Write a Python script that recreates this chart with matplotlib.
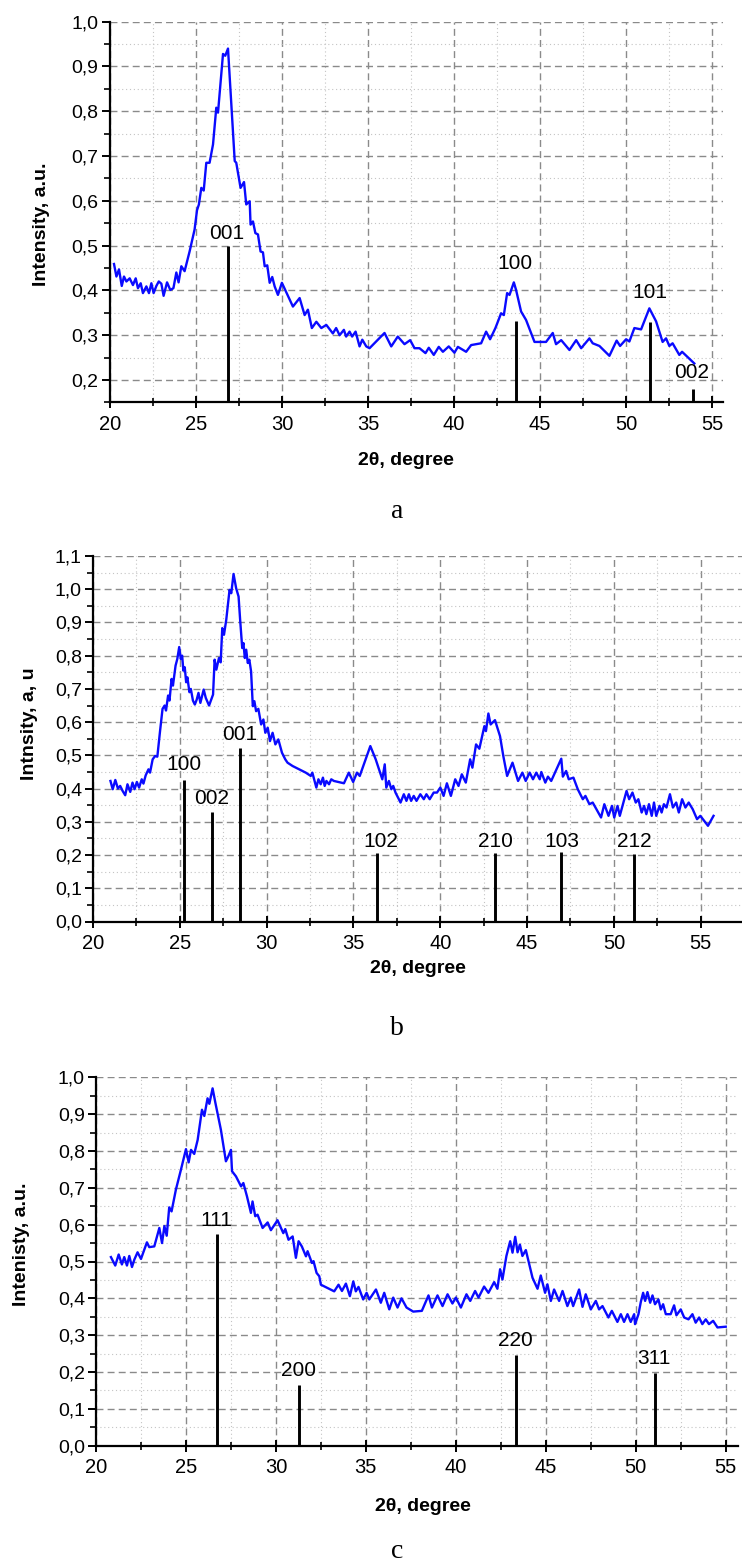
import matplotlib
matplotlib.use("Agg")
import matplotlib.pyplot as plt
from matplotlib.ticker import MultipleLocator, FuncFormatter, FixedLocator
import numpy as np

plt.rcParams['font.family'] = ['Liberation Sans', 'DejaVu Sans']

# ---------------- Panel a ----------------
a_x = [20.25, 20.39, 20.54, 20.70, 20.83, 20.97, 21.16, 21.35, 21.51, 21.64, 21.80, 21.93,
       22.13, 22.28, 22.42, 22.55, 22.71, 22.85, 23.00, 23.13, 23.33, 23.52, 23.70, 23.87,
       24.00, 24.16, 24.35, 24.64, 24.93, 25.07, 25.18, 25.32, 25.46, 25.61, 25.80, 26.00,
       26.19, 26.29, 26.58, 26.71, 26.87, 27.26, 27.35, 27.60, 27.80, 27.93, 28.13, 28.18,
       28.32, 28.46, 28.61, 28.76, 28.90, 29.00, 29.15, 29.29, 29.44, 29.58, 29.77, 30.00,
       30.64, 31.03, 31.32, 31.51, 31.74, 32.00, 32.29, 32.58, 32.96, 33.15, 33.35, 33.60,
       33.73, 33.93, 34.08, 34.28, 34.51, 34.67, 34.90, 35.09, 35.96, 36.35, 36.73, 37.12,
       37.45, 37.70, 37.99, 38.34, 38.53, 38.82, 39.11, 39.35, 39.69, 40.02, 40.22, 40.70,
       40.99, 41.57, 41.86, 42.09, 42.40, 42.73, 42.89, 43.08, 43.22, 43.47, 43.60, 43.89,
       44.18, 44.67, 44.96, 45.34, 45.73, 45.92, 46.22, 46.70, 47.09, 47.38, 47.86, 48.05,
       48.44, 49.02, 49.44, 49.64, 49.99, 50.18, 50.47, 50.86, 51.34, 51.73, 52.11, 52.31,
       52.50, 52.69, 53.08, 53.24, 53.95]
a_y = [0.459, 0.431, 0.447, 0.410, 0.431, 0.420, 0.427, 0.412, 0.427, 0.405, 0.416, 0.394,
       0.409, 0.394, 0.416, 0.394, 0.410, 0.420, 0.415, 0.388, 0.418, 0.401, 0.405, 0.440,
       0.418, 0.454, 0.443, 0.487, 0.536, 0.579, 0.592, 0.629, 0.623, 0.685, 0.685, 0.726,
       0.808, 0.797, 0.928, 0.924, 0.940, 0.689, 0.685, 0.629, 0.642, 0.592, 0.599, 0.547,
       0.554, 0.528, 0.525, 0.487, 0.485, 0.454, 0.456, 0.417, 0.430, 0.409, 0.390, 0.417,
       0.364, 0.383, 0.345, 0.357, 0.316, 0.330, 0.316, 0.323, 0.304, 0.316, 0.300, 0.312,
       0.297, 0.308, 0.297, 0.308, 0.275, 0.290, 0.275, 0.271, 0.305, 0.275, 0.297, 0.280,
       0.289, 0.271, 0.271, 0.260, 0.272, 0.256, 0.274, 0.263, 0.275, 0.261, 0.274, 0.263,
       0.278, 0.282, 0.308, 0.291, 0.316, 0.349, 0.345, 0.394, 0.390, 0.418, 0.401, 0.353,
       0.334, 0.285, 0.285, 0.285, 0.305, 0.280, 0.289, 0.267, 0.289, 0.271, 0.293, 0.282,
       0.276, 0.254, 0.288, 0.276, 0.291, 0.286, 0.316, 0.313, 0.360, 0.331, 0.285, 0.293,
       0.276, 0.282, 0.256, 0.263, 0.237]
a_peaks = ["001", "100", "101", "002"]
a_peak_x = [26.89, 43.58, 51.38, 53.88]
a_peak_top = [0.50, 0.332, 0.33, 0.179]
a_label_x = [26.81, 43.55, 51.35, 53.80]
a_label_y = [0.506, 0.438, 0.374, 0.196]

# ---------------- Panel b ----------------
b_x = [21.00, 21.13, 21.28, 21.43, 21.56, 21.70, 21.85, 21.98, 22.14, 22.27, 22.39, 22.52,
       22.65, 22.80, 22.90, 23.03, 23.19, 23.28, 23.43, 23.57, 23.70, 23.85, 24.00, 24.12,
       24.20, 24.32, 24.40, 24.52, 24.60, 24.75, 24.85, 24.96, 25.05, 25.13, 25.20, 25.28,
       25.36, 25.43, 25.55, 25.63, 25.75, 25.86, 25.97, 26.07, 26.18, 26.37, 26.49, 26.68,
       26.91, 27.00, 27.10, 27.25, 27.35, 27.44, 27.54, 27.67, 27.86, 27.96, 28.09, 28.24,
       28.38, 28.47, 28.59, 28.66, 28.74, 28.82, 28.91, 29.00, 29.10, 29.20, 29.29, 29.39,
       29.52, 29.68, 29.81, 29.92, 30.06, 30.19, 30.34, 30.50, 30.67, 30.88, 31.07, 31.20,
       31.49, 31.87, 32.25, 32.54, 32.63, 32.86, 32.98, 33.11, 33.24, 33.34, 33.44, 33.59,
       33.72, 33.87, 34.45, 34.73, 34.98, 35.20, 35.36, 35.97, 36.28, 36.47, 36.66, 36.80,
       36.89, 37.04, 37.18, 37.29, 37.42, 37.71, 37.90, 38.05, 38.19, 38.32, 38.47, 38.63,
       38.85, 39.05, 39.20, 39.39, 39.62, 39.81, 40.00, 40.19, 40.38, 40.61, 40.86, 41.05,
       41.24, 41.47, 41.72, 41.85, 42.06, 42.25, 42.54, 42.63, 42.77, 42.90, 43.15, 43.44,
       43.63, 43.85, 44.16, 44.48, 44.73, 44.92, 45.15, 45.34, 45.53, 45.73, 45.82, 46.05,
       46.20, 46.39, 46.97, 47.06, 47.25, 47.40, 47.67, 47.92, 48.21, 48.36, 48.59, 48.78,
       49.26, 49.45, 49.69, 49.89, 50.02, 50.21, 50.34, 50.73, 50.88, 51.07, 51.26, 51.41,
       51.60, 51.74, 51.87, 52.02, 52.18, 52.31, 52.44, 52.63, 52.75, 52.88, 53.03, 53.23,
       53.40, 53.59, 53.74, 53.93, 54.12, 54.31, 54.54, 54.79, 54.98, 55.42, 55.74]
b_y = [0.423, 0.398, 0.426, 0.400, 0.408, 0.393, 0.380, 0.413, 0.390, 0.418, 0.398, 0.420,
       0.403, 0.428, 0.415, 0.440, 0.458, 0.448, 0.488, 0.498, 0.496, 0.570, 0.640, 0.650,
       0.635, 0.680, 0.665, 0.730, 0.710, 0.770, 0.790, 0.826, 0.790, 0.800, 0.755, 0.765,
       0.720, 0.735, 0.690, 0.700, 0.665, 0.653, 0.668, 0.688, 0.658, 0.698, 0.673, 0.650,
       0.683, 0.788, 0.758, 0.793, 0.780, 0.883, 0.863, 0.908, 0.998, 0.988, 1.046, 1.003,
       0.978, 0.908, 0.823, 0.838, 0.793, 0.818, 0.778, 0.788, 0.753, 0.648, 0.663, 0.633,
       0.640, 0.593, 0.608, 0.568, 0.583, 0.543, 0.568, 0.533, 0.548, 0.508, 0.488, 0.478,
       0.468, 0.458, 0.448, 0.438, 0.448, 0.403, 0.428, 0.413, 0.433, 0.408, 0.423, 0.413,
       0.428, 0.423, 0.416, 0.448, 0.420, 0.448, 0.438, 0.528, 0.488, 0.458, 0.428, 0.473,
       0.403, 0.423, 0.398, 0.408, 0.388, 0.358, 0.383, 0.363, 0.383, 0.363, 0.378, 0.363,
       0.383, 0.368, 0.383, 0.368, 0.388, 0.388, 0.403, 0.378, 0.416, 0.378, 0.428, 0.408,
       0.443, 0.418, 0.488, 0.463, 0.533, 0.520, 0.588, 0.573, 0.626, 0.593, 0.606, 0.558,
       0.498, 0.438, 0.478, 0.423, 0.448, 0.423, 0.448, 0.428, 0.448, 0.428, 0.450, 0.418,
       0.436, 0.423, 0.490, 0.436, 0.453, 0.428, 0.433, 0.398, 0.368, 0.378, 0.353, 0.358,
       0.313, 0.353, 0.318, 0.348, 0.313, 0.348, 0.318, 0.393, 0.368, 0.388, 0.358, 0.368,
       0.328, 0.348, 0.323, 0.353, 0.318, 0.358, 0.318, 0.348, 0.328, 0.353, 0.343, 0.383,
       0.343, 0.358, 0.328, 0.368, 0.343, 0.358, 0.338, 0.308, 0.318, 0.288, 0.318]
b_peaks = ["100", "002", "001", "102", "210", "103", "212"]
b_peak_x = [25.23, 26.87, 28.49, 36.34, 43.15, 46.96, 51.16]
b_peak_top = [0.426, 0.33, 0.523, 0.205, 0.205, 0.208, 0.202]
b_label_x = [25.25, 26.85, 28.44, 36.55, 43.15, 47.0, 51.15]
b_label_y = [0.443, 0.343, 0.533, 0.212, 0.212, 0.212, 0.212]

# ---------------- Panel c ----------------
c_x = [20.83, 21.07, 21.26, 21.44, 21.57, 21.72, 21.85, 22.00, 22.13, 22.31, 22.50, 22.83,
       22.96, 23.24, 23.52, 23.67, 23.80, 23.93, 24.07, 24.20, 24.44, 24.72, 25.00, 25.15,
       25.28, 25.46, 25.65, 25.89, 26.02, 26.20, 26.30, 26.48, 26.63, 26.94, 27.22, 27.35,
       27.50, 27.56, 27.78, 28.06, 28.19, 28.39, 28.61, 28.70, 28.85, 28.98, 29.26, 29.54,
       29.72, 30.09, 30.28, 30.41, 30.52, 30.70, 30.93, 31.11, 31.26, 31.44, 31.67, 31.76,
       32.00, 32.09, 32.26, 32.41, 32.50, 33.24, 33.48, 33.67, 33.89, 34.11, 34.30, 34.44,
       34.59, 34.85, 35.04, 35.19, 35.56, 35.83, 36.02, 36.30, 36.52, 36.76, 36.98, 37.26,
       37.63, 38.11, 38.48, 38.67, 38.98, 39.26, 39.54, 39.81, 40.00, 40.28, 40.59, 40.80,
       41.07, 41.26, 41.57, 41.81, 42.13, 42.31, 42.46, 42.59, 42.81, 43.02, 43.15, 43.30,
       43.43, 43.56, 43.70, 43.89, 44.26, 44.54, 44.72, 44.96, 45.09, 45.28, 45.46, 45.74,
       45.93, 46.20, 46.39, 46.52, 46.85, 47.04, 47.22, 47.50, 47.78, 47.96, 48.15, 48.48,
       48.67, 48.98, 49.17, 49.35, 49.54, 49.72, 49.91, 49.96, 50.15, 50.28, 50.41, 50.52,
       50.65, 50.80, 50.93, 51.07, 51.26, 51.39, 51.52, 51.67, 51.94, 52.13, 52.26, 52.50,
       52.69, 52.93, 53.15, 53.33, 53.52, 53.70, 53.89, 54.07, 54.30, 54.54, 55.00]
c_y = [0.512, 0.489, 0.519, 0.492, 0.512, 0.489, 0.515, 0.485, 0.505, 0.525, 0.507, 0.552,
       0.539, 0.541, 0.591, 0.550, 0.596, 0.570, 0.647, 0.636, 0.695, 0.749, 0.805, 0.769,
       0.803, 0.792, 0.830, 0.912, 0.895, 0.943, 0.928, 0.970, 0.932, 0.858, 0.772, 0.785,
       0.803, 0.745, 0.731, 0.704, 0.713, 0.677, 0.632, 0.663, 0.623, 0.627, 0.591, 0.606,
       0.585, 0.612, 0.591, 0.577, 0.588, 0.559, 0.568, 0.510, 0.555, 0.541, 0.514, 0.528,
       0.496, 0.501, 0.469, 0.460, 0.437, 0.419, 0.437, 0.420, 0.440, 0.406, 0.446, 0.419,
       0.431, 0.397, 0.415, 0.397, 0.424, 0.388, 0.415, 0.370, 0.402, 0.375, 0.400, 0.375,
       0.364, 0.366, 0.408, 0.375, 0.408, 0.379, 0.411, 0.386, 0.402, 0.375, 0.411, 0.393,
       0.420, 0.402, 0.432, 0.415, 0.444, 0.426, 0.479, 0.451, 0.515, 0.555, 0.524, 0.567,
       0.525, 0.546, 0.515, 0.531, 0.456, 0.426, 0.462, 0.415, 0.438, 0.393, 0.424, 0.393,
       0.420, 0.379, 0.402, 0.379, 0.424, 0.377, 0.411, 0.370, 0.393, 0.370, 0.379, 0.348,
       0.366, 0.336, 0.357, 0.336, 0.357, 0.336, 0.357, 0.330, 0.357, 0.390, 0.415, 0.393,
       0.417, 0.388, 0.408, 0.384, 0.397, 0.370, 0.384, 0.357, 0.357, 0.381, 0.354, 0.370,
       0.348, 0.343, 0.357, 0.334, 0.348, 0.330, 0.343, 0.330, 0.339, 0.321, 0.323]
c_peaks = ["111", "200", "220", "311"]
c_peak_x = [26.70, 31.30, 43.36, 51.06]
c_peak_top = [0.576, 0.165, 0.247, 0.198]
c_label_x = [26.69, 31.27, 43.33, 51.00]
c_label_y = [0.585, 0.177, 0.259, 0.210]

W, H = 742.0, 1562.0
fig = plt.figure(figsize=(W / 100, H / 100), dpi=100)


def make_axes(left, right, top, bottom):
    return fig.add_axes([left / W, 1 - bottom / H, (right - left) / W, (bottom - top) / H])


comma = FuncFormatter(lambda v, p: f"{v:.1f}".replace('.', ','))


def style(ax, xlim, ylim, yticks, ylabel, ylab_xy, xlab_xy):
    ax.set_xlim(*xlim)
    ax.set_ylim(*ylim)
    ax.xaxis.set_major_locator(FixedLocator(np.arange(20, 56, 5)))
    ax.xaxis.set_minor_locator(FixedLocator(np.arange(22.5, xlim[1], 5)))
    ax.yaxis.set_major_locator(FixedLocator(yticks))
    ax.yaxis.set_minor_locator(MultipleLocator(0.05))
    ax.yaxis.set_major_formatter(comma)
    for s in ['top', 'right']:
        ax.spines[s].set_visible(False)
    for s in ['left', 'bottom']:
        ax.spines[s].set_linewidth(1.6)
    ax.set_axisbelow(True)
    ax.grid(which='major', linestyle=(0, (5, 3)), color='#8a8a8a', linewidth=1.0)
    ax.grid(which='minor', linestyle=(0, (1, 2.5)), color='#c4c4c4', linewidth=0.8)
    ax.tick_params(axis='y', which='major', direction='out', length=6, width=1.4,
                   labelsize=14, pad=2)
    ax.tick_params(axis='y', which='minor', direction='out', length=4, width=1.2)
    ax.tick_params(axis='x', which='major', direction='inout', length=8, width=1.4,
                   labelsize=14.5, pad=5)
    ax.tick_params(axis='x', which='minor', direction='inout', length=6, width=1.2)
    ax.set_ylabel(ylabel, fontsize=14, fontweight='bold')
    ax.yaxis.set_label_coords(*ylab_xy)
    ax.yaxis.label.set_va('center')
    ax.set_xlabel("2θ, degree", fontsize=14, fontweight='bold')
    ax.xaxis.set_label_coords(*xlab_xy)
    ax.xaxis.label.set_va('center')


def draw(ax, x, y, px, ptop, base, names, lx, ly):
    ax.plot(x, y, color='#0a0aff', linewidth=1.7, zorder=3)
    ax.vlines(px, base, ptop, colors='black', linewidth=2.1, zorder=4)
    for n, tx, ty in zip(names, lx, ly):
        ax.text(tx, ty, n, ha='center', va='bottom', fontsize=15, zorder=5)


# Panel a
ax_a = make_axes(109.7, 723.4, 21.7, 402.4)
style(ax_a, (20, 55.64), (0.15, 1.0), np.round(np.arange(0.2, 1.01, 0.1), 2),
      "Intensity, a.u.", (-0.111, 0.469), (0.482, -0.153))
draw(ax_a, a_x, a_y, a_peak_x, a_peak_top, 0.15, a_peaks, a_label_x, a_label_y)

# Panel b
ax_b = make_axes(93.1, 742.0, 556.0, 921.5)
style(ax_b, (20, 57.38), (0.0, 1.1), np.round(np.arange(0.0, 1.11, 0.1), 2),
      "Intnsity, a, u", (-0.098, 0.54), (0.50, -0.128))
draw(ax_b, b_x, b_y, b_peak_x, b_peak_top, 0.0, b_peaks, b_label_x, b_label_y)

# Panel c
ax_c = make_axes(96.0, 737.6, 1077.3, 1445.7)
style(ax_c, (20, 55.66), (0.0, 1.0), np.round(np.arange(0.0, 1.01, 0.1), 2),
      "Intenisty, a.u.", (-0.116, 0.547), (0.51, -0.166))
draw(ax_c, c_x, c_y, c_peak_x, c_peak_top, 0.0, c_peaks, c_label_x, c_label_y)

for letter, yy in [("a", 518), ("b", 1035), ("c", 1558)]:
    fig.text(397 / W, 1 - yy / H, letter, ha='center', va='baseline', fontsize=20,
             family='Liberation Serif')

fig.savefig("out.png", dpi=100)
